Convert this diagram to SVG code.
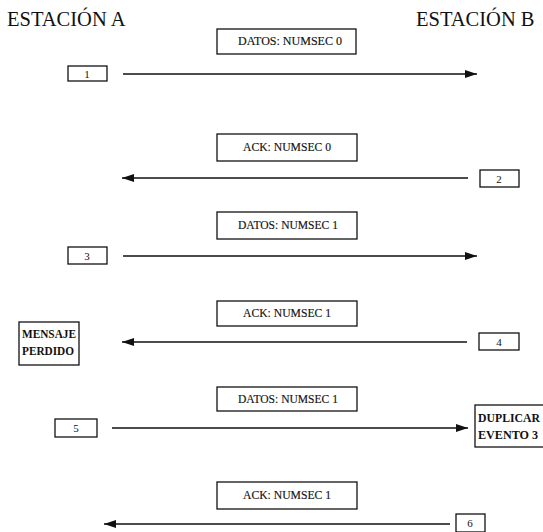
<svg xmlns="http://www.w3.org/2000/svg" width="543" height="532" viewBox="0 0 543 532">
<defs>
<style>
.title{font-family:"Liberation Serif",serif;font-size:20.5px;fill:#111}
.lbl{font-family:"Liberation Serif",serif;font-size:12px;fill:#111;stroke:#111;stroke-width:0.15}
.note{font-family:"Liberation Serif",serif;font-size:12.5px;font-weight:bold;fill:#111}
.num{font-family:"Liberation Serif",serif;font-size:11px;fill:#111}
.box{fill:#fff;stroke:#111;stroke-width:1.3}
.ln{stroke:#111;stroke-width:1.6;fill:none}
</style>
<marker id="ah" viewBox="0 0 12 8" refX="12" refY="4" markerWidth="12" markerHeight="8" markerUnits="userSpaceOnUse" orient="auto">
<path d="M0,0 L12,4 L0,8 z" fill="#111"/>
</marker>
</defs>
<rect width="543" height="532" fill="#fff"/>
<g id="estacion-a"><text class="title" x="7" y="26">ESTACIÓN A</text></g>
<g id="estacion-b"><text class="title" x="416" y="26">ESTACIÓN B</text></g>

<g id="msg1"><rect class="box" x="217" y="29" width="139" height="25"/><text class="lbl" x="238" y="45" textLength="104" lengthAdjust="spacingAndGlyphs">DATOS: NUMSEC 0</text></g>
<g id="ev1"><rect class="box" x="68" y="66" width="39" height="15"/><text class="num" x="87" y="77.5" text-anchor="middle">1</text></g>

<g id="msg2"><rect class="box" x="217" y="134" width="140" height="27"/><text class="lbl" x="243" y="151" textLength="88" lengthAdjust="spacingAndGlyphs">ACK: NUMSEC 0</text></g>
<g id="ev2"><rect class="box" x="480" y="170" width="39" height="17"/><text class="num" x="499" y="182.5" text-anchor="middle">2</text></g>

<g id="msg3"><rect class="box" x="217" y="212" width="140" height="27"/><text class="lbl" x="238" y="229" textLength="100" lengthAdjust="spacingAndGlyphs">DATOS: NUMSEC 1</text></g>
<g id="ev3"><rect class="box" x="68" y="247" width="39" height="17"/><text class="num" x="87" y="259.5" text-anchor="middle">3</text></g>

<g id="msg4"><rect class="box" x="217" y="301" width="140" height="25"/><text class="lbl" x="243" y="317" textLength="88" lengthAdjust="spacingAndGlyphs">ACK: NUMSEC 1</text></g>
<g id="perdido"><rect class="box" x="19" y="322" width="60" height="43"/><text class="note" x="22" y="338" textLength="54" lengthAdjust="spacingAndGlyphs">MENSAJE</text><text class="note" x="22" y="355" textLength="52" lengthAdjust="spacingAndGlyphs">PERDIDO</text></g>
<g id="ev4"><rect class="box" x="479" y="333" width="40" height="17"/><text class="num" x="499" y="345.5" text-anchor="middle">4</text></g>

<g id="msg5"><rect class="box" x="217" y="387" width="140" height="24"/><text class="lbl" x="238" y="403" textLength="100" lengthAdjust="spacingAndGlyphs">DATOS: NUMSEC 1</text></g>
<g id="ev5"><rect class="box" x="55" y="419" width="42" height="18"/><text class="num" x="76" y="432" text-anchor="middle">5</text></g>
<g id="duplicar"><rect class="box" x="475" y="405" width="90" height="42"/><text class="note" x="478" y="422" textLength="62" lengthAdjust="spacingAndGlyphs">DUPLICAR</text><text class="note" x="478" y="439" textLength="60" lengthAdjust="spacingAndGlyphs">EVENTO 3</text></g>

<g id="msg6"><rect class="box" x="217" y="482" width="140" height="27"/><text class="lbl" x="243" y="499" textLength="88" lengthAdjust="spacingAndGlyphs">ACK: NUMSEC 1</text></g>
<g id="ev6"><rect class="box" x="456" y="514" width="29" height="18"/><text class="num" x="470" y="527" text-anchor="middle">6</text></g>

<g id="connectors">
<line class="ln" x1="123" y1="74" x2="477" y2="74" marker-end="url(#ah)"/>
<line class="ln" x1="468" y1="178" x2="122" y2="178" marker-end="url(#ah)"/>
<line class="ln" x1="123" y1="256" x2="477" y2="256" marker-end="url(#ah)"/>
<line class="ln" x1="467" y1="342" x2="122" y2="342" marker-end="url(#ah)"/>
<line class="ln" x1="112" y1="428" x2="468" y2="428" marker-end="url(#ah)"/>
<line class="ln" x1="450" y1="524" x2="104" y2="524" marker-end="url(#ah)"/>
</g>
</svg>
